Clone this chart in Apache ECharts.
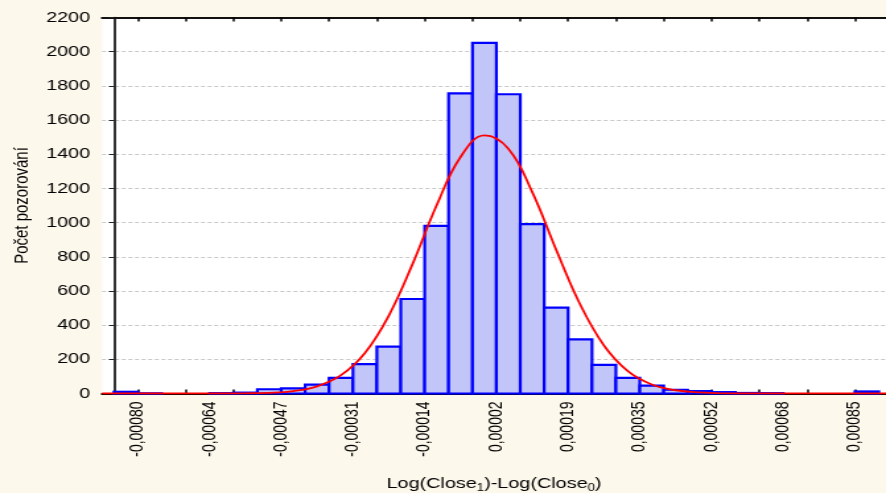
<!DOCTYPE html>
<html>
<head>
<meta charset="utf-8">
<script src="https://cdn.jsdelivr.net/npm/echarts@6/dist/echarts.min.js"></script>
<style>
  html, body { margin: 0; padding: 0; background: #fdf8ec; overflow: hidden; }
  /* the original is drawn wide, so the chart is stretched horizontally */
  #chart { width: 671px; height: 493px; transform: scaleX(1.3204); transform-origin: 0 0; }
</style>
</head>
<body>
<div id="chart"></div>
<script>
// histogram counts, bin i covers [i, i+1] on the x axis
const counts = [10, 1, 0, 0, 2, 5, 25, 30, 52, 92, 172, 274, 553, 981, 1756, 2052,
  1751, 991, 502, 317, 167, 92, 46, 22, 14, 8, 3, 2, 0, 0, 0, 12];

// fitted normal curve, read at the bin centres
const curveX = [-0.5, 0.5, 1.5, 2.5, 3.5, 4.5, 5.5, 6.5, 7.5, 8.5, 9.5, 10.5, 11.5, 12.5, 13.5, 14.5, 15.5,
  16.5, 17.5, 18.5, 19.5, 20.5, 21.5, 22.5, 23.5, 24.5, 25.5, 26.5, 27.5, 28.5, 29.5, 30.5, 31.5, 32.3];
const curveY = [0, 0, 0, 0, 0, 0, 1, 4, 14, 42, 107, 237, 456, 760, 1101, 1384, 1510,
  1432, 1178, 841, 522, 281, 131, 53, 19, 6, 1, 0, 0, 0, 0, 0, 0, 0];

// x ticks sit on every second bin edge, labels on every third
const tickEdges = [1, 3, 5, 7, 9, 11, 13, 15, 17, 19, 21, 23, 25, 27, 29, 31];
const labelEdges = [1, 4, 7, 10, 13, 16, 19, 22, 25, 28, 31];
const tickLabels = ['-0,00080', '-0,00064', '-0,00047', '-0,00031', '-0,00014', '0,00002',
  '0,00019', '0,00035', '0,00052', '0,00068', '0,00085'];

const font = 'Liberation Sans, Arial, sans-serif';
const chart = echarts.init(document.getElementById('chart'));

chart.setOption({
  backgroundColor: '#fdf8ec',
  animation: false,
  textStyle: { fontFamily: font },
  grid: {
    left: 77.25, right: 0, top: 17.5, bottom: 99.5,
    outerBoundsMode: 'none', containLabel: false,
    show: true, backgroundColor: '#ffffff', borderWidth: 0
  },
  xAxis: [
    {
      type: 'value', min: -0.5, max: 32.3, position: 'bottom',
      axisLine: { onZero: false, lineStyle: { color: '#000', width: 2 } },
      axisTick: { inside: true, length: 4, customValues: tickEdges, lineStyle: { color: '#000', width: 1.5 } },
      axisLabel: {
        customValues: labelEdges, rotate: 90, margin: 8, fontSize: 14, color: '#000', fontFamily: font,
        formatter: v => tickLabels[labelEdges.indexOf(v)]
      },
      splitLine: { show: false },
      name: '{a|Log(Close}{s|1}{a|)-Log(Close}{s|0}{a|)}',
      nameLocation: 'middle',
      nameGap: 80,
      nameTextStyle: {
        rich: {
          a: { fontSize: 15, lineHeight: 20, color: '#000', fontFamily: font },
          s: { fontSize: 10, lineHeight: 12, color: '#000', fontFamily: font, verticalAlign: 'bottom' }
        }
      }
    },
    {
      type: 'value', min: -0.5, max: 32.3, position: 'top',
      axisLine: { onZero: false, lineStyle: { color: '#111', width: 2 } },
      axisTick: { inside: true, length: 4, customValues: tickEdges, lineStyle: { color: '#000', width: 1.5 } },
      axisLabel: { show: false },
      splitLine: { show: false }
    }
  ],
  yAxis: {
    type: 'value', min: 0, max: 2200, interval: 200,
    axisLine: { show: true, lineStyle: { color: '#000', width: 1.6 } },
    axisTick: { show: true, length: 3.8, lineStyle: { color: '#222', width: 1 } },
    axisLabel: { margin: 9, fontSize: 15, color: '#000', fontFamily: font, formatter: v => String(v) },
    splitLine: { lineStyle: { color: '#c8c8c8', type: [3, 2], width: 1 } },
    name: 'Počet pozorování',
    nameLocation: 'middle',
    nameGap: 52,
    nameTextStyle: { fontSize: 15, color: '#000', fontFamily: font }
  },
  series: [
    {
      type: 'custom',
      xAxisIndex: 0,
      data: counts.map((c, i) => [i, i + 1, c]),
      encode: { x: [0, 1], y: 2 },
      renderItem: (params, api) => {
        const c = api.value(2);
        if (!c) return null;
        const p0 = api.coord([api.value(0), 0]);
        const p1 = api.coord([api.value(1), c]);
        return {
          type: 'rect',
          shape: { x: p0[0], y: p1[1], width: p1[0] - p0[0], height: p0[1] - p1[1] },
          style: { fill: '#c2c5f7', stroke: '#0000ff', lineWidth: 2.2 }
        };
      }
    },
    {
      type: 'line',
      xAxisIndex: 0,
      data: curveX.map((x, i) => [x, curveY[i]]),
      smooth: 0.4,
      symbol: 'none',
      lineStyle: { color: '#ff0000', width: 1.8 },
      z: 5
    }
  ]
});
</script>
</body>
</html>
